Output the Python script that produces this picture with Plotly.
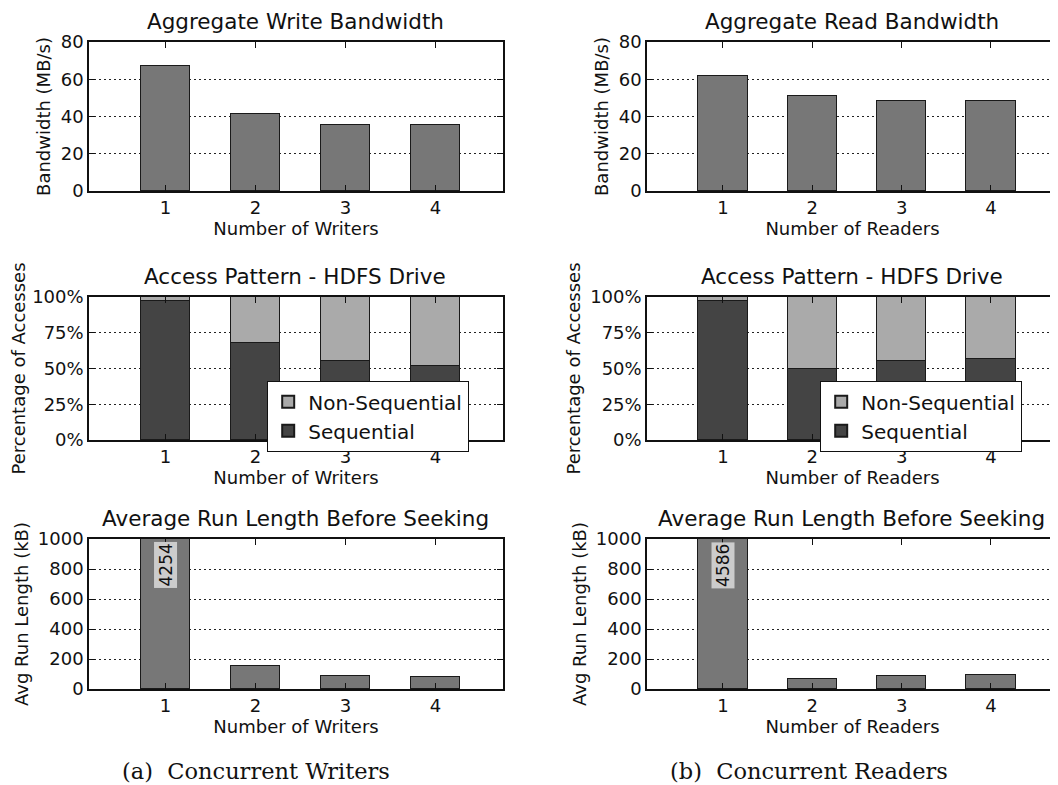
import plotly.graph_objects as go

writers = [1, 2, 3, 4]
readers = [1, 2, 3, 4]

write_bw = [67.0, 41.3, 35.2, 35.7]
read_bw = [62.0, 51.0, 48.5, 48.5]

write_seq = [0.975, 0.68, 0.55, 0.52]
write_nonseq = [0.025, 0.32, 0.45, 0.48]
read_seq = [0.975, 0.495, 0.555, 0.565]
read_nonseq = [0.025, 0.505, 0.445, 0.435]

write_run = [4254, 151, 87, 80]
read_run = [4586, 65, 85, 91]

# the page adds an 8px body margin; figure coordinates are page coordinates minus OFF
OFF = 8
W, H = 1050, 777
FONT = "DejaVu Sans"
BAR_W = 0.55
EDGE = dict(color="#1a1a1a", width=1.5)
TICK_SIZE = 18
LABEL_SIZE = 18
TITLE_SIZE = 21.5
LEGEND_SIZE = 20

# page pixel boxes (left, right, top, bottom)
cols = [(89, 503), (647, 1061)]
rows = [(42, 191), (297, 440), (539, 689)]

def px_x(p):
    return (p - OFF) / W

def px_y(p):
    return 1 - (p - OFF) / H

fig = go.Figure()

def ax_id(r, c):
    return r * 2 + c + 1

def xref(n):
    return "x" if n == 1 else f"x{n}"

def yref(n):
    return "y" if n == 1 else f"y{n}"

# Row 0: bandwidth
for c, (xs, vals) in enumerate([(writers, write_bw), (readers, read_bw)]):
    n = ax_id(0, c)
    fig.add_trace(go.Bar(x=xs, y=vals, width=BAR_W, marker=dict(color="#777777", line=EDGE),
                         showlegend=False, xaxis=xref(n), yaxis=yref(n)))

# Row 1: access pattern
for c, (xs, seq, nonseq) in enumerate([(writers, write_seq, write_nonseq), (readers, read_seq, read_nonseq)]):
    n = ax_id(1, c)
    lg = "legend" if c == 0 else "legend2"
    fig.add_trace(go.Bar(x=xs, y=seq, width=BAR_W, name="Sequential",
                         marker=dict(color="#444444", line=EDGE),
                         legend=lg, xaxis=xref(n), yaxis=yref(n)))
    fig.add_trace(go.Bar(x=xs, y=nonseq, width=BAR_W, name="Non-Sequential",
                         marker=dict(color="#aaaaaa", line=EDGE),
                         legend=lg, xaxis=xref(n), yaxis=yref(n)))

# Row 2: run length
for c, (xs, vals) in enumerate([(writers, write_run), (readers, read_run)]):
    n = ax_id(2, c)
    fig.add_trace(go.Bar(x=xs, y=vals, width=BAR_W, marker=dict(color="#777777", line=EDGE),
                         showlegend=False, xaxis=xref(n), yaxis=yref(n)))

titles = ["Aggregate Write Bandwidth", "Aggregate Read Bandwidth",
          "Access Pattern - HDFS Drive", "Access Pattern - HDFS Drive",
          "Average Run Length Before Seeking", "Average Run Length Before Seeking"]
xtitles = ["Number of Writers", "Number of Readers"]
ytitles = ["Bandwidth (MB/s)", "Percentage of Accesses", "Avg Run Length (kB)"]
yranges = [[0, 80], [0, 1], [0, 1000]]
ydticks = [20, 0.25, 200]

layout = dict(
    width=W, height=H, margin=dict(l=0, r=0, t=0, b=0),
    paper_bgcolor="white", plot_bgcolor="white",
    barmode="stack", bargap=0,
    font=dict(family=FONT, color="#111111", size=TICK_SIZE),
)
annotations = []
for r in range(3):
    for c in range(2):
        n = ax_id(r, c)
        l, rr = cols[c]
        t, b = rows[r]
        xd = [max(px_x(l), 0.0), min(px_x(rr), 1.0)]
        yd = [px_y(b), px_y(t)]
        xa = dict(domain=xd, range=[0.15, 4.75], anchor=yref(n), automargin=False,
                  tickmode="array", tickvals=[1, 2, 3, 4], ticktext=["1", "2", "3", "4"],
                  ticks="inside", ticklen=6, tickwidth=1, tickcolor="#111",
                  showline=True, linecolor="#111", linewidth=1.5, mirror="ticks",
                  showgrid=False, zeroline=False, fixedrange=True,
                  tickfont=dict(size=TICK_SIZE, family=FONT),
                  title=dict(text=xtitles[c], font=dict(size=LABEL_SIZE, family=FONT), standoff=3))
        ya = dict(domain=yd, range=yranges[r], anchor=xref(n), automargin=False,
                  dtick=ydticks[r], tick0=0,
                  ticks="inside", ticklen=6, tickwidth=1, tickcolor="#111",
                  showline=True, linecolor="#111", linewidth=1.5, mirror="ticks",
                  showgrid=True, gridcolor="#222", griddash="1.5px,3.5px", gridwidth=1,
                  zeroline=False, fixedrange=True,
                  tickfont=dict(size=TICK_SIZE, family=FONT),
                  title=dict(text=ytitles[r], font=dict(size=LABEL_SIZE, family=FONT), standoff=5))
        if r == 1:
            ya["tickformat"] = ".0%"
        layout["xaxis" if n == 1 else f"xaxis{n}"] = xa
        layout["yaxis" if n == 1 else f"yaxis{n}"] = ya
        annotations.append(dict(text=titles[n - 1], xref="paper", yref="paper",
                                x=px_x((l + min(rr, 1058)) / 2 - 1), y=yd[1], xanchor="center",
                                yanchor="bottom", yshift=6, showarrow=False,
                                font=dict(size=TITLE_SIZE, family=FONT)))

# value labels for clipped bars
for c, (xs, vals) in enumerate([(writers, write_run), (readers, read_run)]):
    n = ax_id(2, c)
    annotations.append(dict(text=str(vals[0]), x=xs[0], y=827, xref=xref(n), yref=yref(n),
                            showarrow=False, textangle=-90, bgcolor="#cccccc",
                            font=dict(size=17, family=FONT, color="#111"), borderpad=1))

annotations.append(dict(text="(a)  Concurrent Writers", xref="paper", yref="paper",
                        x=px_x(256), y=px_y(771), xanchor="center", yanchor="middle",
                        showarrow=False, font=dict(size=22.5, family="DejaVu Serif", color="#111")))
annotations.append(dict(text="(b)  Concurrent Readers", xref="paper", yref="paper",
                        x=px_x(809), y=px_y(771), xanchor="center", yanchor="middle",
                        showarrow=False, font=dict(size=22.5, family="DejaVu Serif", color="#111")))

layout["annotations"] = annotations
leg_common = dict(bgcolor="white", bordercolor="#111", borderwidth=1.2,
                  font=dict(size=LEGEND_SIZE, family=FONT), traceorder="reversed",
                  xanchor="left", yanchor="top", itemsizing="constant", tracegroupgap=0)
layout["legend"] = dict(x=px_x(267), y=px_y(381), **leg_common)
layout["legend2"] = dict(x=px_x(820), y=px_y(381), **leg_common)

fig.update_layout(**layout)
fig.write_html("out.html")
